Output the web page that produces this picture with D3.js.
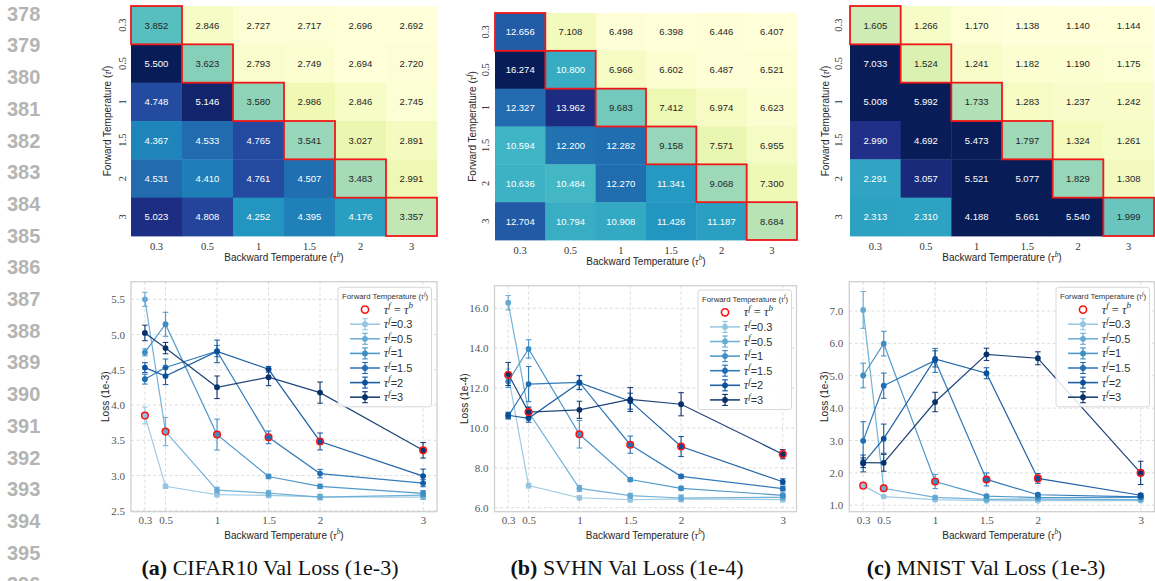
<!DOCTYPE html>
<html><head><meta charset="utf-8">
<script src="https://cdn.jsdelivr.net/npm/d3@7"></script>
<style>body{margin:0;background:#fff}svg{display:block}</style>
</head><body><svg id="c" width="1155" height="581"></svg>
<script>
// ---------------- data ----------------
const temps = [0.3, 0.5, 1, 1.5, 2, 3];
const tempLabels = ["0.3", "0.5", "1", "1.5", "2", "3"];
const lineNumbers = [378,379,380,381,382,383,384,385,386,387,388,389,390,391,392,393,394,395,396];

// rows = forward temperature, cols = backward temperature
const cifarLoss = [
 [3.852,2.846,2.727,2.717,2.696,2.692],
 [5.500,3.623,2.793,2.749,2.694,2.720],
 [4.748,5.146,3.580,2.986,2.846,2.745],
 [4.367,4.533,4.765,3.541,3.027,2.891],
 [4.531,4.410,4.761,4.507,3.483,2.991],
 [5.023,4.808,4.252,4.395,4.176,3.357]];
const cifarErr = [
 [0.12,0.03,0.03,0.03,0.03,0.03],
 [0.10,0.20,0.04,0.04,0.04,0.06],
 [0.05,0.17,0.22,0.03,0.03,0.04],
 [0.07,0.12,0.08,0.09,0.06,0.05],
 [0.07,0.12,0.16,0.04,0.12,0.10],
 [0.11,0.08,0.16,0.12,0.15,0.11]];
const svhnLoss = [
 [12.656,7.108,6.498,6.398,6.446,6.407],
 [16.274,10.800,6.966,6.602,6.487,6.521],
 [12.327,13.962,9.683,7.412,6.974,6.623],
 [10.594,12.200,12.282,9.158,7.571,6.955],
 [10.636,10.484,12.270,11.341,9.068,7.300],
 [12.704,10.794,10.908,11.426,11.187,8.684]];
const svhnErr = [
 [0.30,0.12,0.10,0.10,0.15,0.12],
 [0.36,0.20,0.15,0.12,0.15,0.12],
 [0.30,0.46,0.69,0.10,0.10,0.12],
 [0.15,0.88,0.35,0.43,0.10,0.10],
 [0.15,0.20,0.35,0.40,0.50,0.15],
 [0.58,0.25,0.43,0.60,0.58,0.23]];
const mnistLoss = [
 [1.605,1.266,1.170,1.138,1.140,1.144],
 [7.033,1.524,1.241,1.182,1.190,1.175],
 [5.008,5.992,1.733,1.283,1.237,1.242],
 [2.990,4.692,5.473,1.797,1.324,1.261],
 [2.291,3.057,5.521,5.077,1.829,1.308],
 [2.313,2.310,4.188,5.661,5.540,1.999]];
const mnistErr = [
 [0.04,0.03,0.04,0.03,0.03,0.04],
 [0.57,0.10,0.04,0.03,0.03,0.04],
 [0.38,0.38,0.22,0.05,0.03,0.04],
 [0.59,0.39,0.37,0.20,0.04,0.04],
 [0.26,0.45,0.25,0.17,0.15,0.05],
 [0.15,0.26,0.30,0.19,0.20,0.36]];

const cifarTicks = [2.5,3.0,3.5,4.0,4.5,5.0,5.5];
const svhnTicks = [6,8,10,12,14,16];
const mnistTicks = [1,2,3,4,5,6,7];
const captionLetters = ["(a)", "(b)", "(c)"];
const captionTexts = [" CIFAR10 Val Loss (1e-3)", " SVHN Val Loss (1e-4)", " MNIST Val Loss (1e-3)"];
const lossLabels = ["Loss (1e-3)", "Loss (1e-4)", "Loss (1e-3)"];
const legendLabels = ["0.3","0.5","1","1.5","2","3"];

// ---------------- styles ----------------
const YLGNBU = ["#ffffd9","#edf8b1","#c7e9b4","#7fcdbb","#41b6c4","#1d91c0","#225ea8","#253494","#081d58"];
const BLUES = ["#f7fbff","#deebf7","#c6dbef","#9ecae1","#6baed6","#4292c6","#2171b5","#08519c","#08306b"];
const bluesScale = d3.scaleLinear().domain(d3.range(9).map(i => i/8)).range(BLUES);
const seriesColors = [0.4,0.52,0.64,0.76,0.88,1.0].map(t => bluesScale(t));
const SERIF = "'Liberation Serif','DejaVu Serif',serif";
const SANS = "'Liberation Sans','DejaVu Sans',sans-serif";
const svg = d3.select("#c");

// line numbers
svg.selectAll("text.ln").data(lineNumbers).join("text")
  .attr("x", 7).attr("y", (d,i) => 20.7 + i*31.7)
  .attr("font-family", SANS).attr("font-weight", "bold").attr("font-size", 20)
  .attr("fill", "#b4b4b4").text(d => d);

// helper to append tau with superscript
function addTau(t, sup, fs) {
  t.append("tspan").attr("font-family", SERIF).attr("font-style", "italic").text("τ");
  t.append("tspan").attr("font-family", SERIF).attr("font-style", "italic")
    .attr("font-size", fs*0.72).attr("dy", -fs*0.42).text(sup);
  return t;
}
function tempLabel(g, x, y, main, sup, fs, rotate) {
  const t = g.append("text").attr("font-family", SANS).attr("font-size", fs)
    .attr("fill", "#262626").attr("text-anchor", "middle");
  if (rotate) t.attr("transform", `translate(${x},${y}) rotate(-90)`);
  else t.attr("x", x).attr("y", y);
  t.append("tspan").text(main);
  addTau(t, sup, fs);
  t.append("tspan").attr("dy", fs*0.42).text(")");
  return t;
}
function luminance(c) {
  const r = d3.rgb(c);
  const f = v => { v /= 255; return v <= 0.03928 ? v/12.92 : Math.pow((v+0.055)/1.055, 2.4); };
  return 0.2126*f(r.r) + 0.7152*f(r.g) + 0.0722*f(r.b);
}

// ---------------- heatmaps ----------------
function heatmap(o) {
  const g = svg.append("g");
  const x = d3.scaleBand().domain(tempLabels).range([o.x0, o.x1]);
  const y = d3.scaleBand().domain(tempLabels).range([o.y0, o.y1]);
  const color = d3.scaleLinear()
    .domain(d3.range(9).map(i => o.vmin + (o.vmax - o.vmin)*i/8))
    .range(YLGNBU).clamp(true);
  const cells = o.data.flatMap((row, i) => row.map((v, j) => ({i, j, v})));
  g.selectAll("rect.cell").data(cells).join("rect")
    .attr("x", d => x(tempLabels[d.j])).attr("y", d => y(tempLabels[d.i]))
    .attr("width", x.bandwidth() + 0.4).attr("height", y.bandwidth() + 0.4)
    .attr("fill", d => color(d.v));
  g.selectAll("text.ann").data(cells).join("text")
    .attr("x", d => x(tempLabels[d.j]) + x.bandwidth()/2)
    .attr("y", d => y(tempLabels[d.i]) + y.bandwidth()/2)
    .attr("text-anchor", "middle").attr("dominant-baseline", "central")
    .attr("font-family", SANS).attr("font-size", 9.5)
    .attr("fill", d => luminance(color(d.v)) > 0.408 ? "#262626" : "#ffffff")
    .text(d => d3.format(".3f")(d.v));
  g.selectAll("rect.diag").data(tempLabels).join("rect")
    .attr("x", d => x(d)).attr("y", d => y(d))
    .attr("width", x.bandwidth()).attr("height", y.bandwidth())
    .attr("fill", "none").attr("stroke", "#f01818").attr("stroke-width", 1.8);
  g.selectAll("text.xt").data(tempLabels).join("text")
    .attr("x", d => x(d) + x.bandwidth()/2).attr("y", o.xtickY)
    .attr("text-anchor", "middle").attr("dominant-baseline", "central")
    .attr("font-family", SERIF).attr("font-size", 10.5).attr("fill", "#333").text(d => d);
  g.selectAll("text.yt").data(tempLabels).join("text")
    .attr("transform", d => `translate(${o.ytickX},${y(d) + y.bandwidth()/2}) rotate(-90)`)
    .attr("text-anchor", "middle").attr("dominant-baseline", "central")
    .attr("font-family", SERIF).attr("font-size", 10.5).attr("fill", "#333").text(d => d);
  tempLabel(g, (o.x0 + o.x1)/2, o.xlabY, "Backward Temperature (", "b", 10, false);
  tempLabel(g, o.ylabX, (o.y0 + o.y1)/2, "Forward Temperature (", "f", 10, true);
}
heatmap({data: cifarLoss, x0:131, x1:437, y0:6, y1:236, vmin:2.6934, vmax:5.252,
  xtickY:246, ytickX:122.5, xlabY:261, ylabX:111});
heatmap({data: svhnLoss, x0:495, x1:797, y0:13, y1:240, vmin:6.404, vmax:14.66,
  xtickY:250, ytickX:485, xlabY:264.5, ylabX:475.5});
heatmap({data: mnistLoss, x0:850, x1:1154, y0:6, y1:236, vmin:1.138, vmax:3.2,
  xtickY:246, ytickX:838.5, xlabY:261, ylabX:829});

// ---------------- line charts ----------------
function lineChart(o) {
  const g = svg.append("g");
  const x = d3.scaleLinear().domain([0.165, 3.135]).range([o.x0, o.x1]);
  const y = d3.scaleLinear().domain(o.ydom).range([o.y1, o.y0]);
  // grid
  g.selectAll("line.gx").data(temps).join("line")
    .attr("x1", d => x(d)).attr("x2", d => x(d)).attr("y1", o.y0).attr("y2", o.y1)
    .attr("stroke", "#d4d4d4").attr("stroke-width", 0.8).attr("stroke-dasharray", "3,2.5");
  g.selectAll("line.gy").data(o.ticks).join("line")
    .attr("x1", o.x0).attr("x2", o.x1).attr("y1", d => y(d)).attr("y2", d => y(d))
    .attr("stroke", "#d4d4d4").attr("stroke-width", 0.8).attr("stroke-dasharray", "3,2.5");
  g.append("rect").attr("x", o.x0).attr("y", o.y0).attr("width", o.x1 - o.x0).attr("height", o.y1 - o.y0)
    .attr("fill", "none").attr("stroke", "#d0d0d0").attr("stroke-width", 1.3);
  // axes labels
  const xa = g.append("g").attr("transform", `translate(0,${o.y1 + 2})`)
    .call(d3.axisBottom(x).tickValues(temps).tickFormat((d,i) => tempLabels[i]).tickSize(0));
  xa.select(".domain").remove();
  xa.selectAll("text").attr("font-family", SERIF).attr("font-size", 11).attr("fill", "#555");
  const ya = g.append("g").attr("transform", `translate(${o.x0 - 3},0)`)
    .call(d3.axisLeft(y).tickValues(o.ticks).tickFormat(d3.format(".1f")).tickSize(0));
  ya.select(".domain").remove();
  ya.selectAll("text").attr("font-family", SERIF).attr("font-size", 11).attr("fill", "#555");
  tempLabel(g, (o.x0 + o.x1)/2, 538.5, "Backward Temperature (", "b", 10, false);
  g.append("text").attr("transform", `translate(${o.ylabX},${(o.y0 + o.y1)/2}) rotate(-90)`)
    .attr("text-anchor", "middle").attr("dominant-baseline", "central")
    .attr("font-family", SANS).attr("font-size", 10).attr("fill", "#262626").text(o.ylabel);
  // series
  const line = d3.line().x((d, j) => x(temps[j])).y(d => y(d));
  o.data.forEach((row, i) => {
    const c = seriesColors[i];
    const s = g.append("g");
    s.append("path").attr("d", line(row)).attr("fill", "none").attr("stroke", c)
      .attr("stroke-width", 1.2).attr("stroke-opacity", 0.9);
    const pts = row.map((v, j) => ({t: temps[j], v, e: o.err[i][j]}));
    s.selectAll("line.eb").data(pts).join("line")
      .attr("x1", d => x(d.t)).attr("x2", d => x(d.t))
      .attr("y1", d => y(d.v - d.e)).attr("y2", d => y(d.v + d.e))
      .attr("stroke", c).attr("stroke-width", 1.2).attr("stroke-opacity", 0.9);
    [-1, 1].forEach(sg => {
      s.selectAll("line.cap" + sg).data(pts).join("line")
        .attr("x1", d => x(d.t) - 2.8).attr("x2", d => x(d.t) + 2.8)
        .attr("y1", d => y(d.v + sg*d.e)).attr("y2", d => y(d.v + sg*d.e))
        .attr("stroke", c).attr("stroke-width", 1.1).attr("stroke-opacity", 0.9);
    });
    s.selectAll("circle").data(pts).join("circle")
      .attr("cx", d => x(d.t)).attr("cy", d => y(d.v)).attr("r", 2.9).attr("fill", c);
  });
  // diagonal markers
  g.selectAll("circle.diag").data(temps).join("circle")
    .attr("cx", d => x(d)).attr("cy", (d, k) => y(o.data[k][k])).attr("r", 3.3)
    .attr("fill", "none").attr("stroke", "#ff1010").attr("stroke-width", 1.5);
  // legend
  const L = g.append("g").attr("transform", `translate(${o.lx},${o.ly})`);
  L.append("rect").attr("width", 93.5).attr("height", 119.5).attr("rx", 2.5)
    .attr("fill", "#fff").attr("fill-opacity", 0.85).attr("stroke", "#d8d8d8").attr("stroke-width", 1);
  const tt = L.append("text").attr("x", 47).attr("y", 11.5).attr("text-anchor", "middle")
    .attr("font-family", SANS).attr("font-size", 7.8).attr("fill", "#333");
  tt.append("tspan").text("Forward Temperature (");
  addTau(tt, "f", 7.8);
  tt.append("tspan").attr("dy", 7.8*0.42).text(")");
  const ey = k => 22.3 + k*14.6;
  L.append("circle").attr("cx", 27).attr("cy", ey(0)).attr("r", 3.6)
    .attr("fill", "none").attr("stroke", "#ff1010").attr("stroke-width", 1.6);
  const t0 = L.append("text").attr("x", 45.7).attr("y", ey(0) + 4).attr("font-size", 12.5).attr("fill", "#333");
  addTau(t0, "f", 12.5);
  t0.append("tspan").attr("dy", 12.5*0.42).attr("font-family", SERIF).text(" = ");
  addTau(t0, "b", 12.5);
  legendLabels.forEach((lab, i) => {
    const k = i + 1, c = seriesColors[i], cy = ey(k);
    L.append("line").attr("x1", 12).attr("x2", 42).attr("y1", cy).attr("y2", cy)
      .attr("stroke", c).attr("stroke-width", 1.6).attr("stroke-opacity", 0.9);
    L.append("line").attr("x1", 27).attr("x2", 27).attr("y1", cy - 5.5).attr("y2", cy + 5.5)
      .attr("stroke", c).attr("stroke-width", 1.2);
    [-5.5, 5.5].forEach(dd => L.append("line").attr("x1", 24.2).attr("x2", 29.8)
      .attr("y1", cy + dd).attr("y2", cy + dd).attr("stroke", c).attr("stroke-width", 1.1));
    L.append("circle").attr("cx", 27).attr("cy", cy).attr("r", 2.9).attr("fill", c);
    const t = L.append("text").attr("x", 45.7).attr("y", cy + 4).attr("font-size", 12.5).attr("fill", "#333");
    addTau(t, "f", 12.5);
    t.append("tspan").attr("dy", 12.5*0.42).attr("font-family", SANS).attr("font-size", 11).text("=" + lab);
  });
}
lineChart({data: cifarLoss, err: cifarErr, x0:131, x1:437, y0:281.7, y1:511.7,
  ydom:[2.486, 5.75], ticks: cifarTicks, ylabel: lossLabels[0], ylabX:105, lx:338, ly:287.3});
lineChart({data: svhnLoss, err: svhnErr, x0:494.5, x1:796.5, y0:285.7, y1:511.7,
  ydom:[5.80, 17.13], ticks: svhnTicks, ylabel: lossLabels[1], ylabX:464, lx:698, ly:290});
lineChart({data: mnistLoss, err: mnistErr, x0:849.3, x1:1154.5, y0:281.7, y1:511.7,
  ydom:[0.80, 7.905], ticks: mnistTicks, ylabel: lossLabels[2], ylabX:824, lx:1056, ly:287.3});

// captions
const capX = [270, 627, 986];
captionLetters.forEach((l, i) => {
  const t = svg.append("text").attr("x", capX[i]).attr("y", 575).attr("text-anchor", "middle")
    .attr("font-family", SERIF).attr("font-size", 22).attr("fill", "#111");
  t.append("tspan").attr("font-weight", "bold").text(l);
  t.append("tspan").text(captionTexts[i]);
});
</script></body></html>
